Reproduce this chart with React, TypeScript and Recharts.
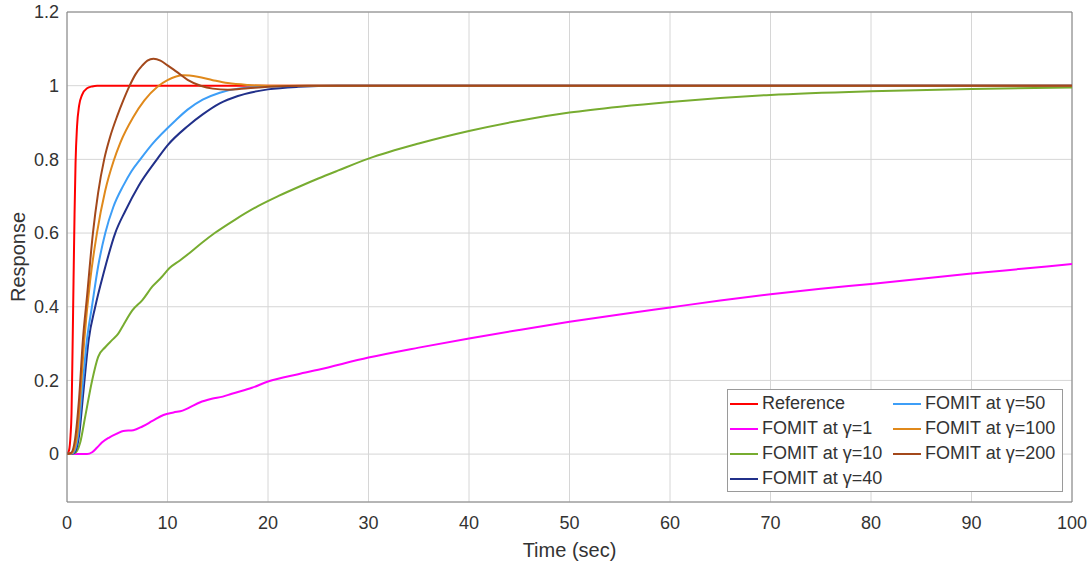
import { CartesianGrid, Line, LineChart, ReferenceLine, XAxis, YAxis } from 'recharts';

// Time stamps (sec) and responses, one pair of arrays per curve
const refT = [0, 0.2, 0.35, 0.45, 0.55, 0.65, 0.75, 0.85, 1.0, 1.2, 1.5, 2.0, 2.5, 3, 100];
const refY = [0, 0.01, 0.05, 0.11, 0.28, 0.47, 0.65, 0.79, 0.89, 0.945, 0.975, 0.993, 0.998, 1, 1];

const g1T = [0, 2.0, 2.5, 3.0, 3.5, 4.2, 5.0, 5.6, 6.6, 7.5, 8.5, 9.6, 10.6, 11.5, 12.3, 13.2, 14.4, 15.5, 16.4, 18.4, 20, 23, 25, 30, 35, 40, 45, 50, 55, 60, 65, 70, 75, 80, 85, 90, 95, 100];
const g1Y = [0, 0, 0.005, 0.018, 0.032, 0.045, 0.056, 0.063, 0.065, 0.075, 0.09, 0.106, 0.113, 0.118, 0.128, 0.14, 0.15, 0.156, 0.164, 0.18, 0.197, 0.217, 0.229, 0.262, 0.289, 0.314, 0.337, 0.359, 0.379, 0.398, 0.417, 0.434, 0.449, 0.462, 0.476, 0.49, 0.503, 0.516];

const g10T = [0, 0.8, 1.3, 1.8, 2.5, 3.1, 3.8, 4.5, 5.1, 5.6, 6.5, 7.5, 8.5, 9.4, 10.2, 11.2, 12.2, 13.4, 14.7, 16.7, 19, 21, 23.2, 25, 27, 30, 35, 40, 45, 50, 55, 60, 70, 80, 90, 100];
const g10Y = [0, 0.003, 0.03, 0.1, 0.2, 0.264, 0.29, 0.31, 0.327, 0.35, 0.39, 0.418, 0.455, 0.48, 0.505, 0.525, 0.546, 0.573, 0.6, 0.636, 0.673, 0.7, 0.727, 0.748, 0.77, 0.802, 0.843, 0.877, 0.905, 0.927, 0.943, 0.956, 0.975, 0.985, 0.991, 0.995];

const g40T = [0, 0.7, 1.2, 1.6, 2.15, 2.81, 3.64, 4.8, 5.8, 7.12, 8.95, 10, 12, 13.5, 15.2, 17, 20, 23, 27, 100];
const g40Y = [0, 0.003, 0.05, 0.16, 0.309, 0.4, 0.491, 0.6, 0.66, 0.728, 0.8, 0.838, 0.89, 0.922, 0.952, 0.972, 0.99, 0.997, 1, 1];

const g50T = [0, 0.6, 1.1, 1.5, 1.98, 2.48, 3.1, 3.81, 4.6, 5.63, 6.4, 7.29, 8.5, 10.77, 12, 13.5, 15.2, 17, 20, 25, 100];
const g50Y = [0, 0.003, 0.05, 0.17, 0.309, 0.4, 0.51, 0.6, 0.67, 0.73, 0.767, 0.8, 0.842, 0.905, 0.935, 0.962, 0.981, 0.992, 0.998, 1, 1];

const g100T = [0, 0.5, 1.0, 1.3, 1.72, 2.3, 2.98, 3.8, 4.63, 5.3, 6.6, 7.7, 9.0, 10, 11.6, 13, 14.5, 16, 18, 20, 100];
const g100Y = [0, 0.003, 0.05, 0.15, 0.309, 0.47, 0.6, 0.715, 0.795, 0.845, 0.915, 0.96, 0.997, 1.015, 1.028, 1.024, 1.015, 1.007, 1.002, 1.0, 1.0];

const g200T = [0, 0.4, 0.8, 1.2, 1.58, 2.0, 2.58, 3.1, 3.7, 4.3, 5.0, 5.6, 6.2, 6.8, 7.5, 8.0, 8.6, 9.3, 10, 11, 12, 13.3, 14.5, 16, 18, 20, 24, 100];
const g200Y = [0, 0.003, 0.04, 0.15, 0.309, 0.43, 0.6, 0.71, 0.8, 0.862, 0.918, 0.96, 0.998, 1.03, 1.055, 1.068, 1.073, 1.068, 1.055, 1.036, 1.016, 1.0, 0.992, 0.989, 0.993, 0.997, 1.0, 1.0];

const xTicks = [0, 10, 20, 30, 40, 50, 60, 70, 80, 90, 100];
const yTicks = [0, 0.2, 0.4, 0.6, 0.8, 1, 1.2];

const zip = (ts: number[], ys: number[]) => ts.map((t, i) => ({ t, y: ys[i] }));

const series = [
  { name: 'Reference', color: '#ff0000', data: zip(refT, refY) },
  { name: 'FOMIT at γ=1', color: '#ff00ff', data: zip(g1T, g1Y) },
  { name: 'FOMIT at γ=10', color: '#77ac30', data: zip(g10T, g10Y) },
  { name: 'FOMIT at γ=40', color: '#21308a', data: zip(g40T, g40Y) },
  { name: 'FOMIT at γ=50', color: '#3d9ef7', data: zip(g50T, g50Y) },
  { name: 'FOMIT at γ=100', color: '#e0891b', data: zip(g100T, g100Y) },
  { name: 'FOMIT at γ=200', color: '#a3481b', data: zip(g200T, g200Y) },
];

const FONT = '"Liberation Sans", Arial, Helvetica, sans-serif';
const AXIS = '#808080';
const TEXT = '#333333';

function LegendBox() {
  return (
    <div
      style={{
        position: 'absolute',
        left: 727,
        top: 389,
        width: 334,
        height: 101,
        border: '1px solid #9a9a9a',
        background: '#fff',
        fontFamily: FONT,
        fontSize: 18,
        color: TEXT,
      }}
    >
      {series.map((s, i) => {
        const col = i < 4 ? 0 : 1;
        const row = i < 4 ? i : i - 4;
        return (
          <div
            key={s.name}
            style={{
              position: 'absolute',
              left: col === 0 ? 2 : 165,
              top: 1 + row * 25,
              height: 25,
              display: 'flex',
              alignItems: 'center',
              whiteSpace: 'nowrap',
            }}
          >
            <svg width={28} height={4} style={{ marginRight: 4 }}>
              <line x1={0} y1={2} x2={28} y2={2} stroke={s.color} strokeWidth={2} />
            </svg>
            <span>{s.name}</span>
          </div>
        );
      })}
    </div>
  );
}

export default function App() {
  return (
    <div style={{ position: 'absolute', left: 0, top: 0, width: 1091, height: 563, background: '#fff' }}>
      <LineChart width={1091} height={563} margin={{ top: 12, right: 19, bottom: 0, left: 0 }}>
        <CartesianGrid stroke="#d6d6d6" strokeWidth={1} />
        <XAxis
          dataKey="t"
          type="number"
          domain={[0, 100]}
          ticks={xTicks}
          height={61}
          stroke={AXIS}
          tickLine={false}
          tickMargin={8}
          tick={{ fill: TEXT, fontSize: 18, fontFamily: FONT }}
          label={{ value: 'Time (sec)', position: 'insideBottom', offset: 6, fill: TEXT, fontSize: 20, fontFamily: FONT }}
          allowDataOverflow
        />
        <YAxis
          type="number"
          domain={[-0.13, 1.2]}
          ticks={yTicks}
          width={67}
          stroke={AXIS}
          tickLine={false}
          tick={{ fill: TEXT, fontSize: 18, fontFamily: FONT }}
          label={{
            value: 'Response',
            angle: -90,
            position: 'insideLeft',
            offset: 18,
            fill: TEXT,
            fontSize: 20,
            fontFamily: FONT,
            style: { textAnchor: 'middle' },
          }}
          allowDataOverflow
        />
        <ReferenceLine y={1.2} stroke={AXIS} />
        <ReferenceLine x={100} stroke={AXIS} />
        {series.map((s) => (
          <Line
            key={s.name}
            data={s.data}
            dataKey="y"
            name={s.name}
            type="monotone"
            stroke={s.color}
            strokeWidth={2}
            dot={false}
            isAnimationActive={false}
          />
        ))}
      </LineChart>
      <LegendBox />
    </div>
  );
}
